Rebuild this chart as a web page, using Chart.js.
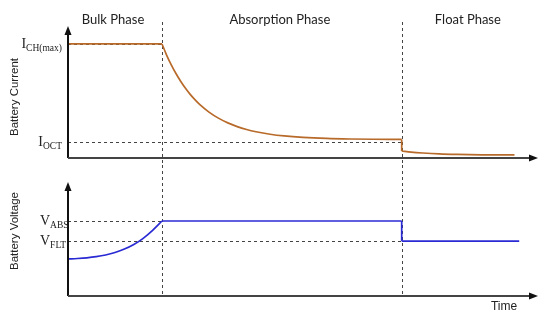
<!DOCTYPE html>
<html>
<head>
<meta charset="utf-8">
<script src="https://cdn.jsdelivr.net/npm/chart.js@4.4.1/dist/chart.umd.min.js"></script>
<style>
  html, body { margin: 0; padding: 0; background: #fff; }
  #wrap { position: relative; width: 550px; height: 320px; }
  #wrap canvas { position: absolute; left: 0; }
</style>
</head>
<body>
<div id="wrap">
  <canvas id="cur" width="550" height="165" style="top:0"></canvas>
  <canvas id="volt" width="550" height="155" style="top:165px"></canvas>
</div>
<script>
// time axis 0..100 (arbitrary units)
var phaseNames = ['Bulk Phase', 'Absorption Phase', 'Float Phase'];
var phaseBounds = [0, 20, 71, 100];

// battery current (relative units)
var bulkT = [0, 20];
var bulkI = [86.4, 86.4];
var absT = [20, 21, 22, 23, 24, 25, 26, 27, 28, 30, 32, 34, 36, 38, 40, 43, 46, 50, 55, 60, 65, 71];
var absI = [86.4, 77.8, 70.4, 63.8, 58.0, 52.8, 48.2, 44.2, 40.6, 34.8, 30.2, 26.6, 23.8, 21.6, 19.9, 18.0, 16.7, 15.6, 14.8, 14.4, 14.2, 14.1];
var dropIT = [71, 71];
var dropI = [14.1, 5.3];
var floatT = [71, 73, 75.5, 79, 82.8, 88, 95];
var floatI = [5.3, 4.5, 3.8, 3.1, 2.7, 2.4, 2.3];
var iLevels = [86.4, 12.1];
var iLevelEnds = [20, 71];
var iLevelLabels = [['I', 'CH(max)'], ['I', 'OCT']];

// battery voltage (relative units)
var bulkVT = [0, 2, 4, 6, 8, 10, 12, 14, 16, 18, 20];
var bulkV = [32.5, 32.9, 33.5, 34.5, 36.0, 38.2, 41.2, 45.2, 50.6, 57.6, 65.8];
var absVT = [20, 71];
var absV = [65.8, 65.8];
var dropVT = [71, 71];
var dropV = [65.8, 48.2];
var floatVT = [71, 96];
var floatV = [48.2, 48.2];
var vLevels = [65.8, 48.2];
var vLevelEnds = [20, 71];
var vLevelLabels = [['V', 'ABS'], ['V', 'FLT']];

var curColor = '#b86a2a';
var voltColor = '#2a2ad4';

function pts(xs, ys) {
  return xs.map(function (x, i) { return { x: x, y: ys[i] }; });
}

function ds(xs, ys, color, smooth) {
  return {
    data: pts(xs, ys), borderColor: color, borderWidth: 1.7, pointRadius: 0,
    fill: false, cubicInterpolationMode: smooth ? 'monotone' : 'default', tension: 0
  };
}

function arrow(ctx, x, y, dir) {
  ctx.beginPath();
  if (dir === 'up') { ctx.moveTo(x, y); ctx.lineTo(x - 3.5, y + 9); ctx.lineTo(x + 3.5, y + 9); }
  else { ctx.moveTo(x, y); ctx.lineTo(x - 9, y - 3.5); ctx.lineTo(x - 9, y + 3.5); }
  ctx.closePath();
  ctx.fill();
}

// label like I_CH(max); align 'left' starts at x, 'right' ends at x
function subLabel(ctx, parts, x, y, align) {
  ctx.fillStyle = '#222';
  ctx.textAlign = 'left';
  ctx.textBaseline = 'alphabetic';
  ctx.font = '14px "Liberation Serif"';
  var w1 = ctx.measureText(parts[0]).width;
  ctx.font = '9.5px "Liberation Serif"';
  var w2 = ctx.measureText(parts[1]).width;
  var x0 = align === 'right' ? x - w1 - w2 : x;
  ctx.font = '14px "Liberation Serif"';
  ctx.fillText(parts[0], x0, y);
  ctx.font = '9.5px "Liberation Serif"';
  ctx.fillText(parts[1], x0 + w1, y + 3);
}

function makePlugin(opts) {
  return {
    id: 'deco',
    beforeDatasetsDraw: function (chart) {
      var ctx = chart.ctx, a = chart.chartArea;
      var xs = chart.scales.x, ys = chart.scales.y;
      ctx.save();
      ctx.strokeStyle = '#444';
      ctx.lineWidth = 1;
      ctx.setLineDash([3, 3]);
      // phase boundaries
      [phaseBounds[1], phaseBounds[2]].forEach(function (t) {
        var px = Math.round(xs.getPixelForValue(t)) + 0.5;
        ctx.beginPath();
        ctx.moveTo(px, opts.vTop);
        ctx.lineTo(px, opts.vBottom === null ? a.bottom : opts.vBottom);
        ctx.stroke();
      });
      // level lines
      opts.levels.forEach(function (lv, i) {
        var py = Math.round(ys.getPixelForValue(lv)) + 0.5;
        ctx.beginPath();
        ctx.moveTo(a.left, py);
        ctx.lineTo(xs.getPixelForValue(opts.levelEnds[i]), py);
        ctx.stroke();
      });
      ctx.restore();
    },
    afterDatasetsDraw: function (chart) {
      var ctx = chart.ctx, a = chart.chartArea;
      var ys = chart.scales.y;
      ctx.save();
      ctx.strokeStyle = '#111';
      ctx.fillStyle = '#111';
      ctx.lineWidth = 2;
      ctx.beginPath();
      ctx.moveTo(a.left, a.bottom);
      ctx.lineTo(a.left, a.top + 4);
      ctx.stroke();
      arrow(ctx, a.left, a.top, 'up');
      ctx.strokeStyle = '#444';
      ctx.beginPath();
      ctx.moveTo(a.left, a.bottom);
      ctx.lineTo(a.right - 4, a.bottom);
      ctx.stroke();
      ctx.fillStyle = '#111';
      arrow(ctx, a.right, a.bottom, 'right');

      opts.levels.forEach(function (lv, i) {
        var py = ys.getPixelForValue(lv);
        subLabel(ctx, opts.labels[i], opts.labelX, py + 4, opts.labelAlign);
      });

      // rotated axis title
      ctx.fillStyle = '#222';
      ctx.font = '11.5px "Liberation Sans"';
      ctx.textAlign = 'center';
      ctx.textBaseline = 'middle';
      ctx.translate(15, opts.titleY);
      ctx.rotate(-Math.PI / 2);
      ctx.fillText(opts.title, 0, 0);
      ctx.restore();

      if (opts.extra) opts.extra(chart);
    }
  };
}

function baseOptions(padding, yMax) {
  return {
    responsive: false,
    animation: false,
    layout: { padding: padding },
    plugins: { legend: { display: false }, tooltip: { enabled: false } },
    scales: {
      x: { type: 'linear', min: 0, max: 100, display: false },
      y: { type: 'linear', min: 0, max: yMax, display: false }
    }
  };
}

new Chart(document.getElementById('cur'), {
  type: 'line',
  data: {
    datasets: [
      ds(bulkT, bulkI, curColor, false),
      ds(absT, absI, curColor, true),
      ds(dropIT, dropI, curColor, false),
      ds(floatT, floatI, curColor, true)
    ]
  },
  options: baseOptions({ left: 68, right: 12, top: 26, bottom: 7 }, 100),
  plugins: [makePlugin({
    vTop: 22, vBottom: 165,
    levels: iLevels, levelEnds: iLevelEnds, labels: iLevelLabels, labelX: 62, labelAlign: 'right',
    title: 'Battery Current', titleY: 97,
    extra: function (chart) {
      var ctx = chart.ctx, xs = chart.scales.x;
      ctx.save();
      ctx.fillStyle = '#222';
      ctx.font = '13px Lato';
      ctx.textAlign = 'center';
      ctx.textBaseline = 'middle';
      phaseNames.forEach(function (n, i) {
        var cx = (xs.getPixelForValue(phaseBounds[i]) + xs.getPixelForValue(phaseBounds[i + 1])) / 2;
        ctx.fillText(n, cx - 2, 20);
      });
      ctx.restore();
    }
  })]
});

new Chart(document.getElementById('volt'), {
  type: 'line',
  data: {
    datasets: [
      ds(bulkVT, bulkV, voltColor, true),
      ds(absVT, absV, voltColor, false),
      ds(dropVT, dropV, voltColor, false),
      ds(floatVT, floatV, voltColor, false)
    ]
  },
  options: baseOptions({ left: 68, right: 12, top: 17, bottom: 24 }, 100),
  plugins: [makePlugin({
    vTop: 0, vBottom: null,
    levels: vLevels, levelEnds: vLevelEnds, labels: vLevelLabels, labelX: 40, labelAlign: 'left',
    title: 'Battery Voltage', titleY: 66,
    extra: function (chart) {
      var ctx = chart.ctx;
      ctx.save();
      ctx.fillStyle = '#222';
      ctx.font = '12px "Liberation Sans"';
      ctx.textAlign = 'center';
      ctx.textBaseline = 'middle';
      ctx.fillText('Time', 504, 142);
      ctx.restore();
    }
  })]
});
</script>
</body>
</html>
